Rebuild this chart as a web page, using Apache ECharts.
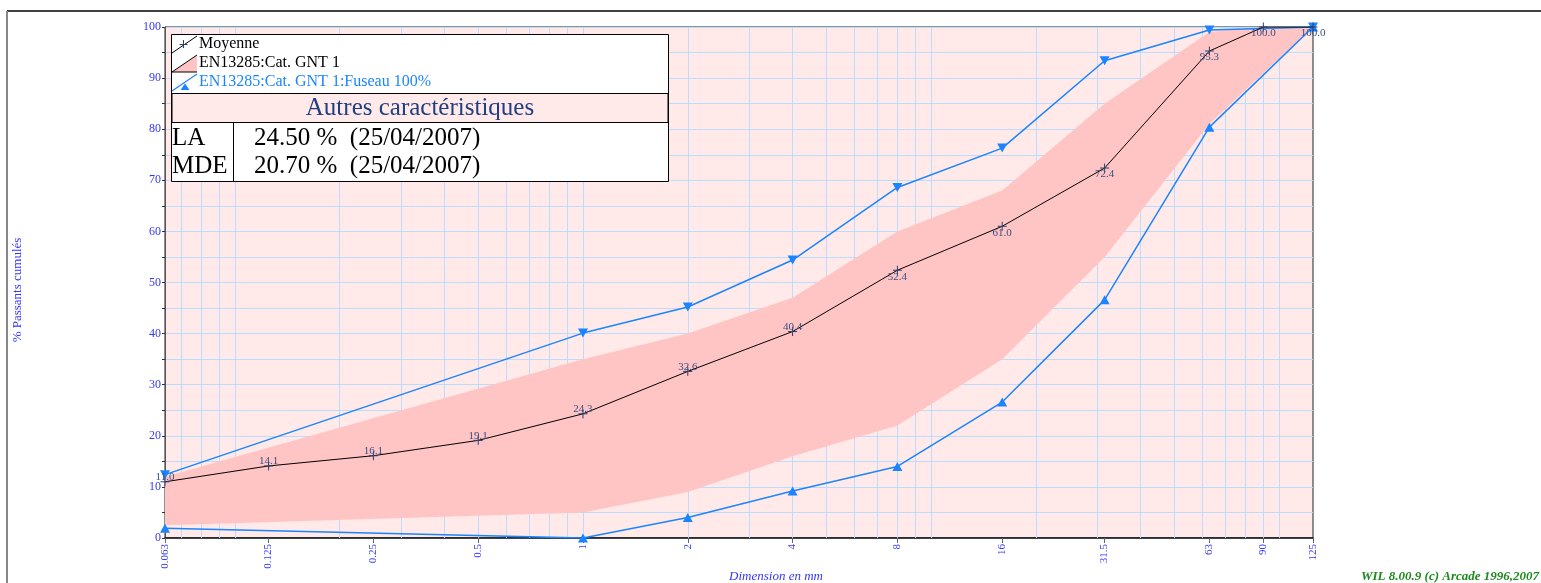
<!DOCTYPE html>
<html>
<head>
<meta charset="utf-8">
<script src="https://cdn.jsdelivr.net/npm/echarts@6/dist/echarts.min.js"></script>
<style>html,body{margin:0;padding:0;background:#fff}#c{width:1541px;height:583px}</style>
</head>
<body>
<div id="c"></div>
<script>
// ---- data ----
const sieves = [0.063, 0.125, 0.25, 0.5, 1, 2, 4, 8, 16, 31.5, 63, 90, 125];
const moyenne = [11.0, 14.1, 16.1, 19.1, 24.3, 32.6, 40.4, 52.4, 61.0, 72.4, 95.3, 100.0, 100.0];

const bandSieves = [0.063, 1, 2, 4, 8, 16, 31.5, 63, 90, 125];
const bandLower = [2.5, 5, 9, 16, 22, 35, 55, 81, 91, 100];
const bandUpper = [12, 35, 40, 47, 60, 68, 85, 99, 100, 100];

const fuseauSieves = [0.063, 1, 2, 4, 8, 16, 31.5, 63, 125];
const fuseauUpper = [12.4, 40.1, 45.2, 54.4, 68.6, 76.3, 93.4, 99.4, 100];
const fuseauLower = [1.9, 0, 4, 9.2, 14, 26.6, 46.6, 80.4, 100];

const xTickLabels = [0.063, 0.125, 0.25, 0.5, 1, 2, 4, 8, 16, 31.5, 63, 90, 125];
const xGridValues = [0.07, 0.08, 0.09, 0.1, 0.2, 0.3, 0.4, 0.5, 0.6, 0.7, 0.8, 0.9, 1,
  2, 3, 4, 5, 6, 7, 8, 9, 10, 20, 30, 40, 50, 60, 70, 80, 90, 100];

const legendNames = ['Moyenne', 'EN13285:Cat. GNT 1', 'EN13285:Cat. GNT 1:Fuseau 100%'];
const tableTitle = 'Autres caractéristiques';
const tableRows = [['LA', '24.50 %  (25/04/2007)'], ['MDE', '20.70 %  (25/04/2007)']];

// ---- chart ----
const SERIF = '"Liberation Serif", "DejaVu Serif", serif';
const BLUE = '#1a85ff';
const LABEL_BLUE = '#3535ff';
const chart = echarts.init(document.getElementById('c'), null, {renderer: 'canvas'});

const pair = (xs, ys) => xs.map((x, i) => [x, ys[i]]);

const option = {
  animation: false,
  backgroundColor: '#ffffff',
  grid: {
    left: 165, right: 228, top: 27, bottom: 45,
    show: true, backgroundColor: '#ffe9e9', borderColor: '#222', borderWidth: 1
  },
  xAxis: {
    type: 'log', logBase: 10, min: 0.063, max: 125,
    axisLine: {show: true, onZero: false, lineStyle: {color: '#111', width: 1.5}},
    axisTick: {show: true, customValues: xTickLabels, length: 5, lineStyle: {color: '#666'}},
    axisLabel: {
      customValues: xTickLabels, rotate: 90, margin: 6,
      color: LABEL_BLUE, fontFamily: SERIF, fontSize: 11,
      formatter: v => String(v)
    },
    splitLine: {show: false},
    minorTick: {show: false}
  },
  yAxis: {
    type: 'value', min: 0, max: 100, interval: 5,
    axisLine: {show: true, lineStyle: {color: '#555'}},
    axisTick: {show: true, length: 3, lineStyle: {color: '#333'}},
    axisLabel: {
      color: LABEL_BLUE, fontFamily: SERIF, fontSize: 12, margin: 4,
      formatter: v => (v % 10 === 0 ? String(v) : '')
    },
    splitLine: {show: true, lineStyle: {color: '#bcdcff', width: 1}}
  },
  series: [
    {
      name: 'grid', type: 'line', data: [], symbol: 'none', silent: true, z: 1,
      markLine: {
        silent: true, symbol: 'none', z: 1, animation: false,
        label: {show: false},
        lineStyle: {color: '#bcdcff', type: 'solid', width: 1},
        data: xGridValues.map(v => ({xAxis: v}))
      }
    },
    {
      name: legendNames[1], type: 'custom', z: 2, silent: true, clip: true,
      data: bandSieves.map((x, i) => [x, bandLower[i], bandUpper[i]]),
      encode: {x: 0, y: [1, 2]},
      renderItem: (params, api) => {
        if (params.dataIndex !== 0) return null;
        const top = bandSieves.map((x, i) => api.coord([x, bandUpper[i]]));
        const bottom = bandSieves.map((x, i) => api.coord([x, bandLower[i]])).reverse();
        return {
          type: 'polygon',
          shape: {points: top.concat(bottom)},
          style: {fill: '#ffc4c4', stroke: null}
        };
      }
    },
    {
      name: legendNames[2] + ' max', type: 'line', z: 3,
      data: pair(fuseauSieves, fuseauUpper),
      symbol: 'triangle', symbolRotate: 180, symbolSize: [10, 9],
      lineStyle: {color: BLUE, width: 1.5}, itemStyle: {color: BLUE}
    },
    {
      name: legendNames[2] + ' min', type: 'line', z: 3,
      data: pair(fuseauSieves, fuseauLower),
      symbol: 'triangle', symbolSize: [10, 9],
      lineStyle: {color: BLUE, width: 1.5}, itemStyle: {color: BLUE}
    },
    {
      name: legendNames[0], type: 'line', z: 4,
      data: pair(sieves, moyenne).map((d, i) => ({
        value: d,
        label: i >= 7 ? {position: 'bottom', offset: [0, -4]} : {position: 'top', offset: [0, 6]}
      })),
      symbol: 'path://M5,0L5,10M0,5L10,5', symbolSize: 9,
      itemStyle: {color: 'rgba(0,0,0,0)', borderColor: '#2a3f70', borderWidth: 1},
      lineStyle: {color: '#000', width: 1},
      label: {
        show: true, distance: 0, color: '#3b4f80', fontFamily: SERIF, fontSize: 11,
        formatter: p => p.value[1].toFixed(1)
      }
    }
  ],
  graphic: [
    // outer frame
    {type: 'line', z: 50, shape: {x1: 7, y1: 11, x2: 1541, y2: 11}, style: {stroke: '#000', lineWidth: 1.5}},
    {type: 'line', z: 50, shape: {x1: 7, y1: 11, x2: 7, y2: 583}, style: {stroke: '#888', lineWidth: 2}},
    // axis names
    {type: 'text', z: 50, x: 18, y: 290, rotation: Math.PI / 2,
      style: {text: '% Passants cumulés', fill: LABEL_BLUE, font: '13px ' + SERIF, align: 'center', verticalAlign: 'middle'}},
    {type: 'text', z: 50, x: 776, y: 577,
      style: {text: 'Dimension en mm', fill: LABEL_BLUE, font: 'italic 13px ' + SERIF, align: 'center', verticalAlign: 'middle'}},
    {type: 'text', z: 50, x: 1539, y: 577,
      style: {text: 'WIL 8.00.9 (c) Arcade 1996,2007', fill: '#1e8a1e', font: 'italic bold 13px ' + SERIF, align: 'right', verticalAlign: 'middle'}},
    // legend box
    {type: 'rect', z: 100, shape: {x: 171.5, y: 34.5, width: 497, height: 147}, style: {fill: '#fff', stroke: '#000', lineWidth: 1}},
    {type: 'rect', z: 101, shape: {x: 172, y: 93.5, width: 496, height: 29}, style: {fill: '#ffe9e9', stroke: '#000', lineWidth: 1}},
    {type: 'line', z: 102, shape: {x1: 233.5, y1: 122.5, x2: 233.5, y2: 181.5}, style: {stroke: '#000', lineWidth: 1}},
    // legend icons
    {type: 'line', z: 102, shape: {x1: 172, y1: 53, x2: 197, y2: 36}, style: {stroke: '#000', lineWidth: 1}},
    {type: 'line', z: 103, shape: {x1: 183.5, y1: 40, x2: 183.5, y2: 48}, style: {stroke: '#2a3f70', lineWidth: 1}},
    {type: 'line', z: 103, shape: {x1: 179.5, y1: 44.5, x2: 187.5, y2: 44.5}, style: {stroke: '#2a3f70', lineWidth: 1}},
    {type: 'polygon', z: 102, shape: {points: [[172, 72], [197, 55], [197, 72]]}, style: {fill: '#ffc4c4'}},
    {type: 'polyline', z: 103, shape: {points: [[197, 72], [172, 72], [197, 55]]}, style: {stroke: '#000', lineWidth: 1, fill: null}},
    {type: 'line', z: 102, shape: {x1: 172, y1: 91, x2: 197, y2: 74}, style: {stroke: BLUE, lineWidth: 1.2}},
    {type: 'polygon', z: 103, shape: {points: [[180.5, 90], [189.5, 90], [185, 83.5]]}, style: {fill: BLUE}},
    // legend texts
    {type: 'text', z: 103, x: 199, y: 44, style: {text: legendNames[0], fill: '#000', font: '16px ' + SERIF, verticalAlign: 'middle'}},
    {type: 'text', z: 103, x: 199, y: 63, style: {text: legendNames[1], fill: '#000', font: '16px ' + SERIF, verticalAlign: 'middle'}},
    {type: 'text', z: 103, x: 199, y: 82, style: {text: legendNames[2], fill: BLUE, font: '16px ' + SERIF, verticalAlign: 'middle'}},
    {type: 'text', z: 103, x: 420, y: 108, style: {text: tableTitle, fill: '#1f3f80', font: '25px ' + SERIF, align: 'center', verticalAlign: 'middle'}},
    {type: 'text', z: 103, x: 172, y: 138, style: {text: tableRows[0][0], fill: '#000', font: '25px ' + SERIF, verticalAlign: 'middle'}},
    {type: 'text', z: 103, x: 254, y: 138, style: {text: tableRows[0][1], fill: '#000', font: '25px ' + SERIF, verticalAlign: 'middle'}},
    {type: 'text', z: 103, x: 172, y: 166, style: {text: tableRows[1][0], fill: '#000', font: '25px ' + SERIF, verticalAlign: 'middle'}},
    {type: 'text', z: 103, x: 254, y: 166, style: {text: tableRows[1][1], fill: '#000', font: '25px ' + SERIF, verticalAlign: 'middle'}}
  ]
};
chart.setOption(option);
</script>
</body>
</html>
